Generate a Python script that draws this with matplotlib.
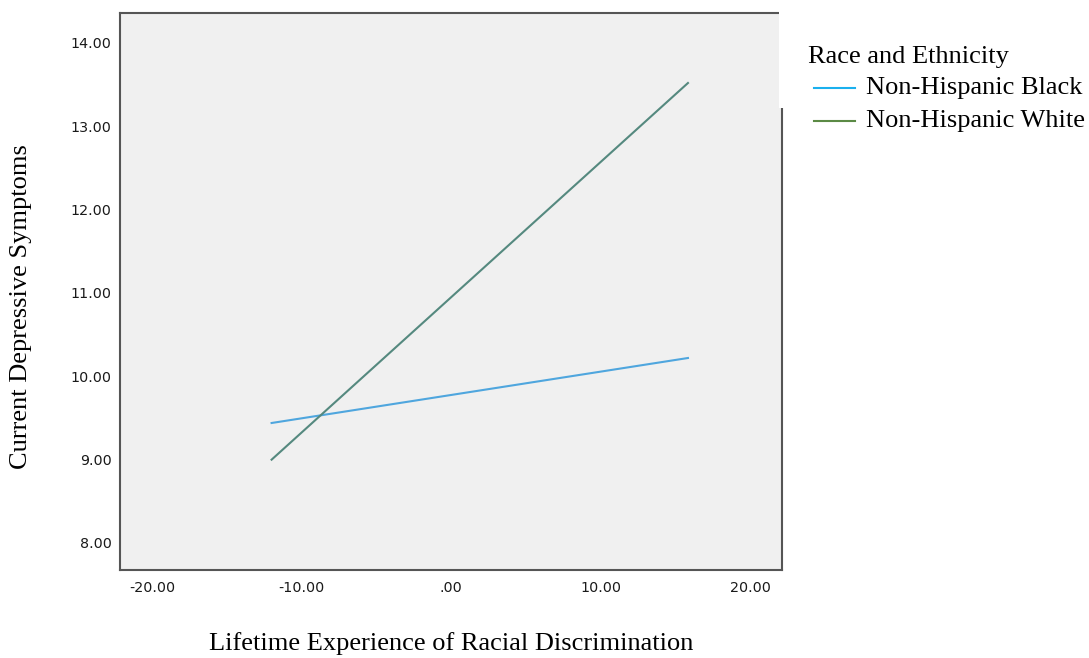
import numpy as np
import matplotlib.pyplot as plt
from matplotlib.patches import Rectangle

# Fitted lines: discrimination score vs depressive symptoms, by group
groups = ["Non-Hispanic Black", "Non-Hispanic White"]
x_start = [-12.0, -12.0]
x_end = [15.85, 15.85]
y_start = [9.44, 9.00]
y_end = [10.22, 13.52]
line_colors = ["#4fa6de", "#55897f"]
legend_colors = ["#1ab0ee", "#5b8a45"]

x_ticks = [-20, -10, 0, 10, 20]
x_ticklabels = ["-20.00", "-10.00", ".00", "10.00", "20.00"]
y_ticks = [8, 9, 10, 11, 12, 13, 14]
y_ticklabels = ["8.00", "9.00", "10.00", "11.00", "12.00", "13.00", "14.00"]

fig = plt.figure(figsize=(10.89, 6.58), dpi=100)
ax = fig.add_axes([120/1089, 1 - 570/658, 662/1089, 557/658])
ax.set_facecolor("#f0f0f0")

for i in range(len(groups)):
    ax.plot([x_start[i], x_end[i]], [y_start[i], y_end[i]], color=line_colors[i], lw=1.5)

ax.set_xlim(-22.14, 22.14)
ax.set_ylim(7.676, 14.36)
ax.set_xticks(x_ticks)
ax.set_xticklabels(x_ticklabels)
ax.set_yticks(y_ticks)
ax.set_yticklabels(y_ticklabels)
ax.tick_params(length=0, labelsize=10.3, colors="#1a1a1a")
ax.tick_params(axis="x", pad=8)
ax.tick_params(axis="y", pad=6)
for s in ax.spines.values():
    s.set_color("#555555")
    s.set_linewidth(1.5)

# axis titles
fig.text(451/1089, 1 - 644/658, "Lifetime Experience of Racial Discrimination",
         family="Liberation Serif", fontsize=19, ha="center", va="center")
fig.text(21/1089, 1 - 307/658, "Current Depressive Symptoms",
         family="Liberation Serif", fontsize=19, ha="center", va="center", rotation=90)

# legend panel sits on top of the frame's upper right corner
fig.patches.append(Rectangle((779/1089, 1 - 108/658), 310/1089, 100/658,
                             transform=fig.transFigure, facecolor="white",
                             edgecolor="none", zorder=5))
fig.text(808/1089, 1 - 57/658, "Race and Ethnicity", family="Liberation Serif",
         fontsize=19, va="center", zorder=6)
for i, g in enumerate(groups):
    yy = 1 - (88 + 33*i)/658
    fig.add_artist(plt.Line2D([814/1089, 855/1089], [yy, yy], color=legend_colors[i],
                              lw=1.5, transform=fig.transFigure, zorder=6))
    fig.text(866/1089, yy, g, family="Liberation Serif", fontsize=19, va="center", zorder=6)

fig.savefig("out.png", dpi=100)
